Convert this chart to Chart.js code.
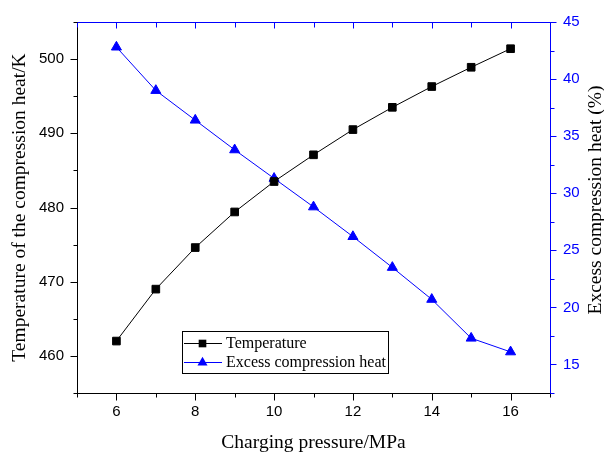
<!DOCTYPE html>
<html>
<head>
<meta charset="utf-8">
<script src="https://cdn.jsdelivr.net/npm/chart.js@4.4.0/dist/chart.umd.min.js"></script>
<style>
  body { margin: 0; background: #fff; }
  #wrap { width: 604px; height: 457px; }
</style>
</head>
<body>
<div id="wrap"><canvas id="graphCanvas" width="604" height="457"></canvas></div>
<script>
// data
var pressure = [6, 7, 8, 9, 10, 11, 12, 13, 14, 15, 16];
var temperature = [462.0, 469.0, 474.6, 479.4, 483.5, 487.1, 490.5, 493.5, 496.3, 498.9, 501.4];
var excessHeat = [42.8, 39.0, 36.4, 33.8, 31.3, 28.8, 26.2, 23.5, 20.7, 17.3, 16.1];

var xTickLabels = [6, 8, 10, 12, 14, 16];
var tempTickLabels = [460, 470, 480, 490, 500];
var heatTickLabels = [15, 20, 25, 30, 35, 40, 45];

var BLUE = '#0000ff';
var sansFont = "'Liberation Sans', Arial, sans-serif";
var serifFont = "'Liberation Serif', 'Times New Roman', serif";
var rightTitle = 'Excess compression heat (%)';

function pairs(xs, ys) {
    var out = [];
    for (var i in xs) {
        out.push({x: xs[i], y: ys[i]});
    }
    return out;
}

function line(ctx, x1, y1, x2, y2) {
    ctx.beginPath();
    ctx.moveTo(x1, y1);
    ctx.lineTo(x2, y2);
    ctx.stroke();
}

// ticks (major/minor), top mirror axis, right title and the boxed legend
var framePlugin = {
    id: 'frame',
    afterDraw: function (chart) {
        var ctx = chart.ctx;
        var a = chart.chartArea;
        var sx = chart.scales.x, sl = chart.scales.y, sr = chart.scales.y1;
        var top = Math.round(a.top) + 0.5, bottom = Math.round(a.bottom) + 0.5;
        var left = Math.round(a.left) + 0.5, right = Math.round(a.right) + 0.5;
        ctx.save();
        ctx.lineWidth = 1;

        ctx.strokeStyle = BLUE;
        line(ctx, left, top, right, top);
        for (var v = sx.min; v <= sx.max; v++) {
            var px = Math.round(sx.getPixelForValue(v)) + 0.5;
            var major = (v % 2 === 0);
            ctx.strokeStyle = BLUE;
            line(ctx, px, top, px, top + (major ? 6 : 5));
            ctx.strokeStyle = '#000';
            line(ctx, px, bottom, px, bottom + (major ? 7 : 4));
        }

        ctx.strokeStyle = '#000';
        for (var t = sl.min; t <= sl.max; t += 5) {
            var py = Math.round(sl.getPixelForValue(t)) + 0.5;
            line(ctx, left, py, left - (t % 10 === 0 ? 7 : 4), py);
        }

        ctx.strokeStyle = BLUE;
        for (var h = sr.min; h <= sr.max + 0.01; h += 2.5) {
            var py2 = Math.round(sr.getPixelForValue(h)) + 0.5;
            line(ctx, right, py2, right + (h % 5 === 0 ? 6 : 4), py2);
        }

        // right axis title, reading bottom to top
        ctx.save();
        ctx.translate(596, 200);
        ctx.rotate(-Math.PI / 2);
        ctx.fillStyle = '#000';
        ctx.font = '19.5px ' + serifFont;
        ctx.textAlign = 'center';
        ctx.textBaseline = 'middle';
        ctx.fillText(rightTitle, 0, 0);
        ctx.restore();

        // legend box
        var bx = 182.5, by = 331.5, bw = 206, bh = 42;
        ctx.fillStyle = '#fff';
        ctx.fillRect(bx, by, bw, bh);
        ctx.strokeStyle = '#000';
        ctx.strokeRect(bx, by, bw, bh);
        var rows = [343.5, 362.5];
        chart.data.datasets.forEach(function (ds, i) {
            var ry = rows[i];
            ctx.strokeStyle = ds.borderColor;
            ctx.lineWidth = 1;
            line(ctx, 184, ry, 222, ry);
            ctx.fillStyle = ds.pointBackgroundColor;
            Chart.helpers.drawPoint(ctx, {
                pointStyle: ds.pointStyle,
                radius: ds.pointRadius,
                borderWidth: 0,
                rotation: 0
            }, 202.5, ry);
            ctx.fillStyle = '#000';
            ctx.font = '16px ' + serifFont;
            ctx.textBaseline = 'middle';
            ctx.textAlign = 'left';
            ctx.fillText(ds.label, 226, ry);
        });
        ctx.restore();
    }
};

var chartdata = {
    datasets: [
        {
            label: 'Temperature',
            data: pairs(pressure, temperature),
            yAxisID: 'y',
            borderColor: '#000',
            backgroundColor: '#000',
            pointBackgroundColor: '#000',
            pointBorderColor: '#000',
            pointStyle: 'rect',
            pointRadius: 5.4,
            borderWidth: 1,
            tension: 0
        },
        {
            label: 'Excess compression heat',
            data: pairs(pressure, excessHeat),
            yAxisID: 'y1',
            borderColor: BLUE,
            backgroundColor: BLUE,
            pointBackgroundColor: BLUE,
            pointBorderColor: BLUE,
            pointStyle: 'triangle',
            pointRadius: 5.8,
            borderWidth: 1,
            tension: 0
        }
    ]
};

var graphTarget = document.getElementById('graphCanvas');

var lineGraph = new Chart(graphTarget, {
    type: 'line',
    data: chartdata,
    plugins: [framePlugin],
    options: {
        responsive: false,
        animation: false,
        clip: false,
        layout: {padding: {top: 12, right: 0, left: 0, bottom: 0}},
        plugins: {
            legend: {display: false},
            tooltip: {enabled: false}
        },
        scales: {
            x: {
                type: 'linear',
                min: 5,
                max: 17,
                afterFit: function (scale) { scale.height = 64; },
                afterBuildTicks: function (scale) {
                    scale.ticks = xTickLabels.map(function (v) { return {value: v}; });
                },
                ticks: {
                    padding: 10,
                    color: '#000',
                    font: {family: sansFont, size: 15},
                    maxRotation: 0,
                    autoSkip: false
                },
                grid: {display: false, drawTicks: false},
                border: {display: true, color: '#000', width: 1},
                title: {
                    display: true,
                    text: 'Charging pressure/MPa',
                    color: '#000',
                    font: {family: serifFont, size: 19.5},
                    padding: {top: 0, bottom: 2}
                }
            },
            y: {
                position: 'left',
                min: 455,
                max: 505,
                afterFit: function (scale) { scale.width = 77; },
                afterBuildTicks: function (scale) {
                    scale.ticks = tempTickLabels.map(function (v) { return {value: v}; });
                },
                ticks: {
                    padding: 13,
                    color: '#000',
                    font: {family: sansFont, size: 15}
                },
                grid: {display: false, drawTicks: false},
                border: {display: true, color: '#000', width: 1},
                title: {
                    display: true,
                    text: 'Temperature of the compression heat/K',
                    color: '#000',
                    font: {family: serifFont, size: 19.5},
                    padding: {top: 8, bottom: 0}
                }
            },
            y1: {
                position: 'right',
                min: 12.5,
                max: 45,
                afterFit: function (scale) { scale.width = 54; },
                afterBuildTicks: function (scale) {
                    scale.ticks = heatTickLabels.map(function (v) { return {value: v}; });
                },
                ticks: {
                    padding: 13,
                    color: BLUE,
                    font: {family: sansFont, size: 15}
                },
                grid: {display: false, drawTicks: false},
                border: {display: true, color: BLUE, width: 1},
                title: {display: false}
            }
        }
    }
});
</script>
</body>
</html>
